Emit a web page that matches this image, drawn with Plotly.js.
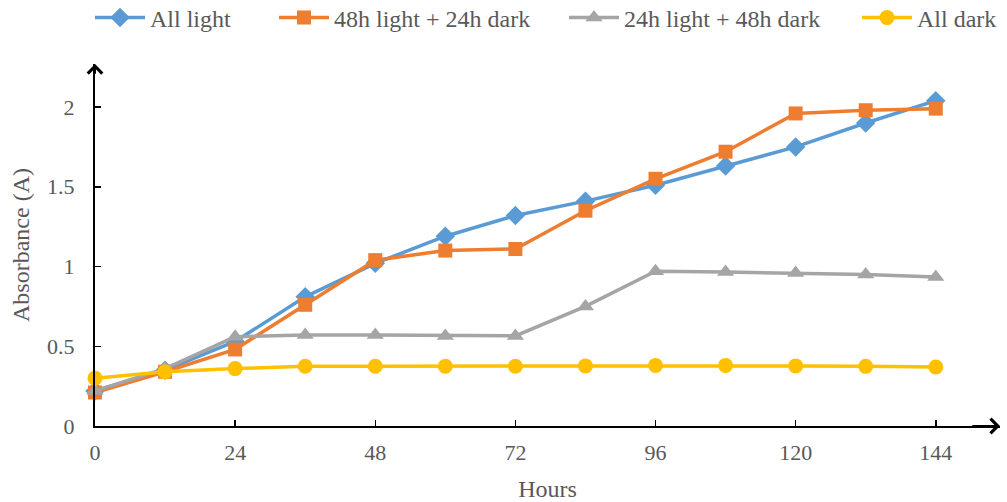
<!DOCTYPE html>
<html>
<head>
<meta charset="utf-8">
<script src="https://cdn.plot.ly/plotly-3.0.1.min.js"></script>
<style>html,body{margin:0;padding:0;background:#fff}#chart{width:1007px;height:502px}</style>
</head>
<body>
<div id="chart"></div>
<script>
const hours = [0, 12, 24, 36, 48, 60, 72, 84, 96, 108, 120, 132, 144];
const allLight = [0.22, 0.35, 0.53, 0.81, 1.02, 1.19, 1.32, 1.41, 1.51, 1.63, 1.75, 1.90, 2.04];
const light48dark24 = [0.21, 0.34, 0.48, 0.76, 1.04, 1.10, 1.11, 1.35, 1.55, 1.72, 1.96, 1.98, 1.99];
const light24dark48 = [0.22, 0.36, 0.56, 0.57, 0.57, 0.565, 0.565, 0.75, 0.97, 0.965, 0.96, 0.95, 0.935];
const allDark = [0.30, 0.34, 0.36, 0.375, 0.375, 0.375, 0.375, 0.377, 0.38, 0.38, 0.377, 0.374, 0.37];
const seriesNames = ["All light", "48h light + 24h dark", "24h light + 48h dark", "All dark"];
const xTicks = [0, 24, 48, 72, 96, 120, 144];
const yTicks = [0, 0.5, 1, 1.5, 2];
const yTickText = ["0", "0.5", "1", "1.5", "2"];

const font = "'Liberation Serif', 'Times New Roman', serif";
const gray = "#595959";
const mk = (y, name, color, symbol, size, lg) => ({
  x: hours, y: y, name: name, type: "scatter", mode: "lines+markers",
  line: {color: color, width: 3.5},
  marker: {color: color, symbol: symbol, size: size},
  cliponaxis: false, legend: lg
});
const data = [
  mk(allLight, seriesNames[0], "#5B9BD5", "diamond", 15, "legend"),
  mk(light48dark24, seriesNames[1], "#ED7D31", "square", 14, "legend2"),
  mk(light24dark48, seriesNames[2], "#A5A5A5", "triangle-up", 15, "legend3"),
  mk(allDark, seriesNames[3], "#FFC000", "circle", 15, "legend4")
];
const lg = (px) => ({orientation: "h", xref: "container", yref: "container",
  x: px / 1007, xanchor: "left", y: 1 - 18 / 502, yanchor: "middle",
  font: {family: font, size: 24, color: gray}, itemwidth: 50, bgcolor: "rgba(0,0,0,0)"});
const layout = {
  width: 1007, height: 502,
  margin: {l: 95, r: 7, t: 64, b: 76},
  paper_bgcolor: "#fff", plot_bgcolor: "#fff",
  font: {family: font, size: 22, color: gray},
  showlegend: true,
  legend: lg(90), legend2: lg(274), legend3: lg(564), legend4: lg(857),
  xaxis: {range: [0, 155], tickvals: xTicks, ticktext: xTicks.map(String),
          showgrid: false, zeroline: false, showline: true, linecolor: "#000", linewidth: 2,
          ticks: "inside", ticklen: 6, tickwidth: 1.5, tickcolor: "#000", automargin: false,
          ticklabelstandoff: 6,
          tickfont: {family: font, size: 22, color: gray},
          title: {text: "Hours", font: {family: font, size: 24, color: gray}, standoff: 16}},
  yaxis: {range: [0, 2.27], tickvals: yTicks, ticktext: yTickText,
          showgrid: false, zeroline: false, showline: true, linecolor: "#000", linewidth: 2,
          ticks: "inside", ticklen: 6, tickwidth: 1.5, tickcolor: "#000", automargin: false,
          ticklabelstandoff: 14,
          tickfont: {family: font, size: 22, color: gray},
          title: {text: "Absorbance (A)", font: {family: font, size: 24, color: gray}, standoff: 11}},
  annotations: [
    {x: 155, y: 0, ax: 150, ay: 0, xref: "x", yref: "y", axref: "x", ayref: "y", text: "",
     showarrow: true, arrowhead: 4, arrowsize: 1.4, arrowwidth: 2, arrowcolor: "#000"},
    {x: 0, y: 2.27, ax: 0, ay: 2.2, xref: "x", yref: "y", axref: "x", ayref: "y", text: "",
     showarrow: true, arrowhead: 4, arrowsize: 1.4, arrowwidth: 2, arrowcolor: "#000"}
  ]
};
Plotly.newPlot("chart", data, layout, {displayModeBar: false, staticPlot: true});
</script>
</body>
</html>
